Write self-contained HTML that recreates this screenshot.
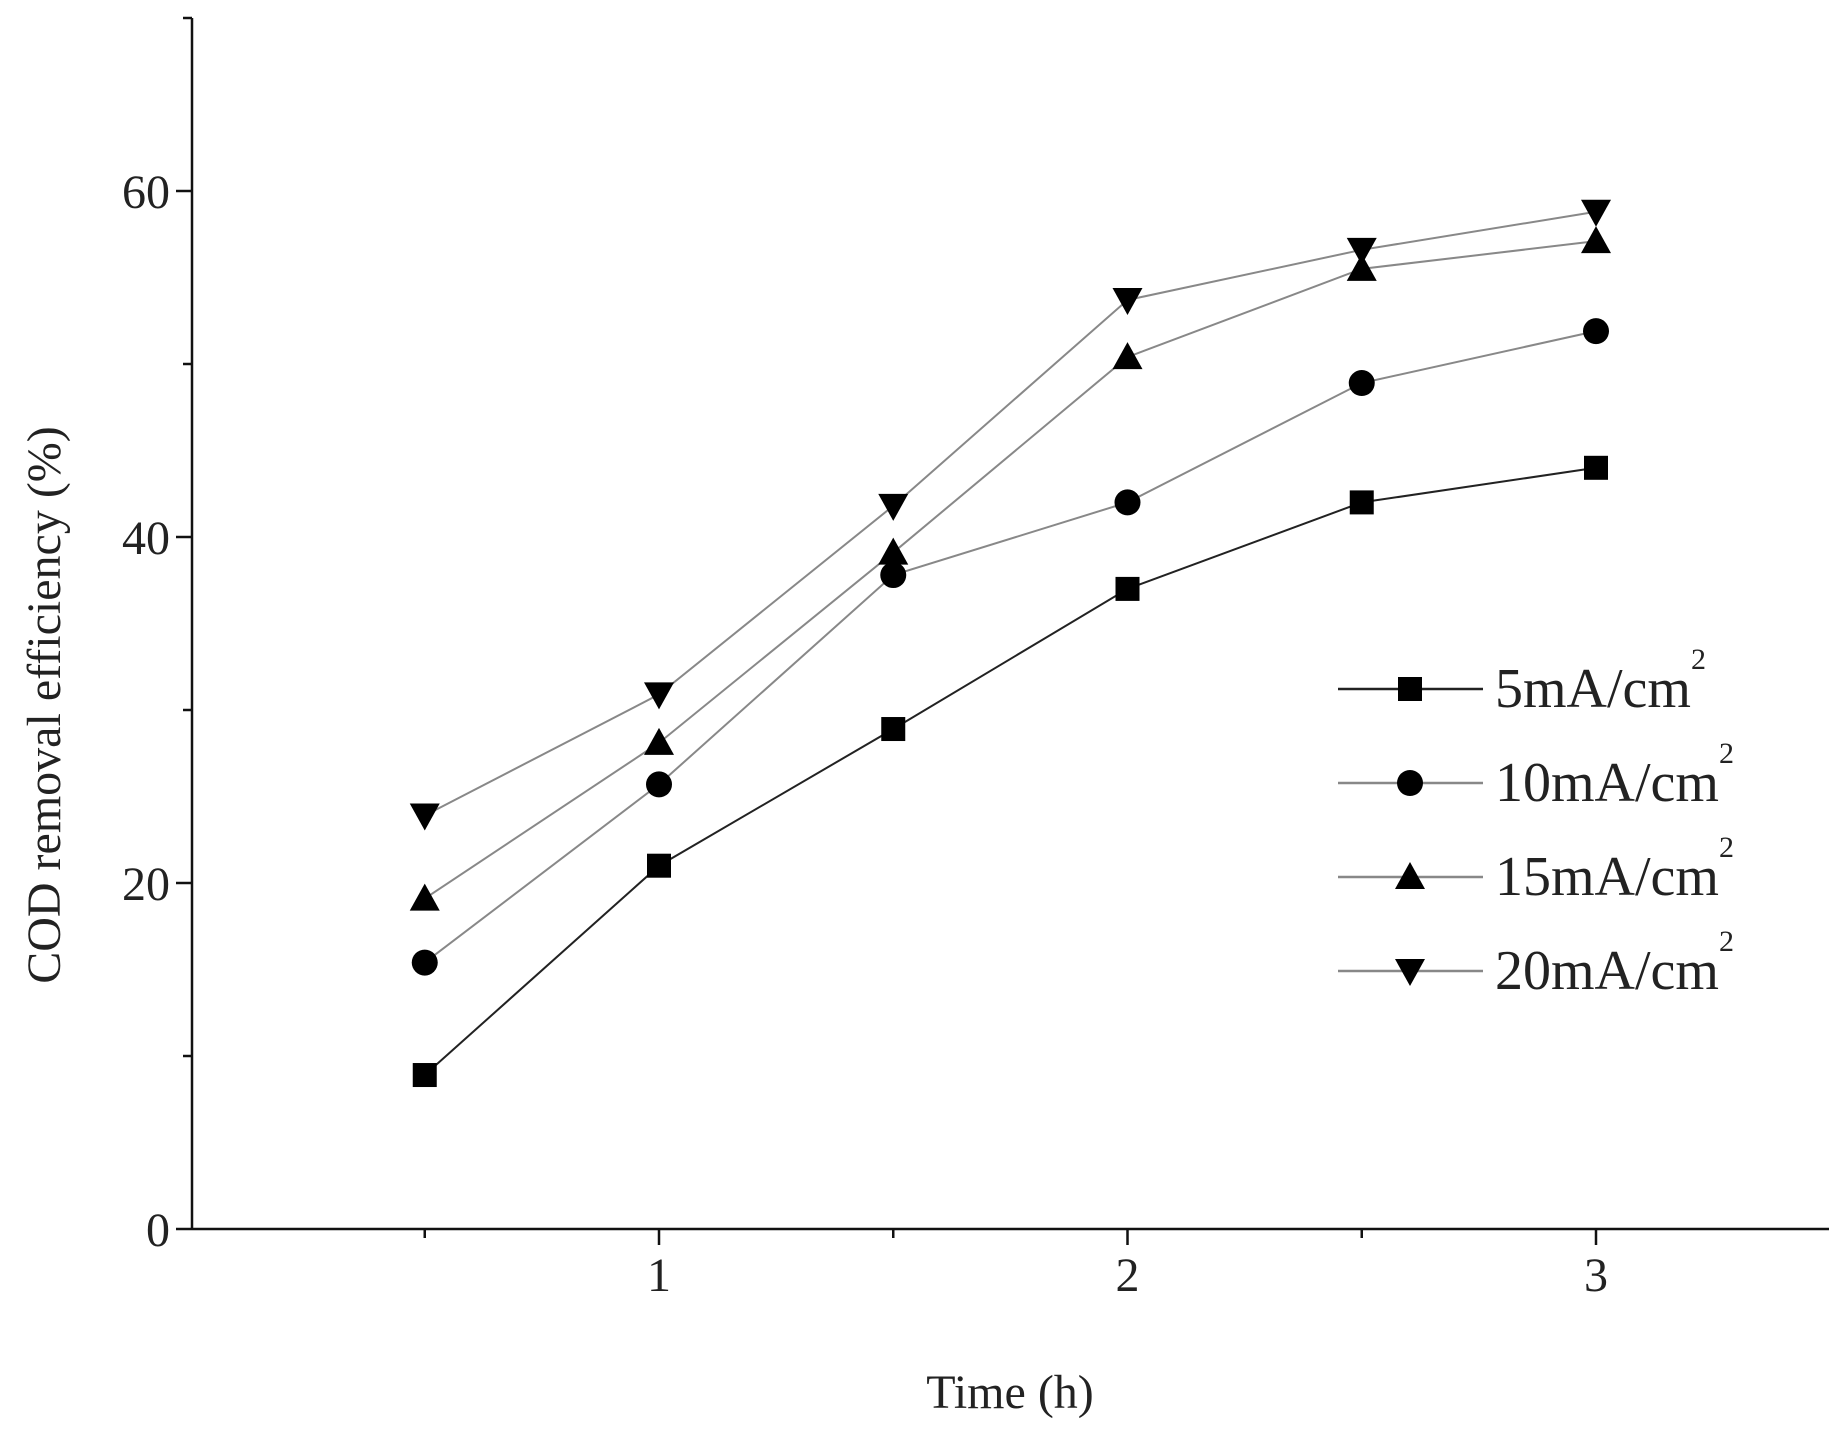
<!DOCTYPE html>
<html><head><meta charset="utf-8"><style>
html,body{margin:0;padding:0;background:#fff;}
svg text{font-family:"Liberation Serif",serif;fill:#222;}
</style></head><body>
<svg id="chart" width="1843" height="1439" viewBox="0 0 1843 1439" xmlns="http://www.w3.org/2000/svg">
<g id="axes"></g>
<g id="series"></g>
<g id="legend"></g>
<text x="1010" y="1408" font-size="48" text-anchor="middle">Time (h)</text>
<text x="0" y="0" font-size="48" text-anchor="middle" transform="translate(60,705) rotate(-90)">COD removal efficiency (%)</text>
</svg>
<script>
const times = [0.5, 1, 1.5, 2, 2.5, 3];
const s5 = [8.9, 21.0, 28.9, 37.0, 42.0, 44.0];
const s10 = [15.4, 25.7, 37.8, 42.0, 48.9, 51.9];
const s15 = [19.1, 28.1, 39.1, 50.4, 55.5, 57.1];
const s20 = [23.9, 30.9, 41.8, 53.7, 56.6, 58.8];
const seriesNames = ["5mA/cm", "10mA/cm", "15mA/cm", "20mA/cm"];
const yTicks = [0, 20, 40, 60];
const yMinor = [10, 30, 50, 70];
const xTicks = [1, 2, 3];
const xMinor = [0.5, 1.5, 2.5];

const NS = "http://www.w3.org/2000/svg";
const X0 = 192, Y0 = 1229;
function xs(t){ return 659 + (t - 1) * 468.5; }
function ys(v){ return Y0 - v * 17.3; }
function mk(tag, attrs, parent){
  const e = document.createElementNS(NS, tag);
  for (const k in attrs) e.setAttribute(k, attrs[k]);
  parent.appendChild(e);
  return e;
}
const axes = document.getElementById('axes');
let e;
e = mk('line', {x1:X0, y1:ys(70), x2:X0, y2:Y0, stroke:'#111', 'stroke-width':2.5}, axes);


e = mk('line', {x1:X0, y1:Y0, x2:1829, y2:Y0, stroke:'#111', 'stroke-width':2.5}, axes);


yTicks.forEach(v => {
  e = mk('line', {x1:X0-16, y1:ys(v), x2:X0, y2:ys(v), stroke:'#111', 'stroke-width':2.5}, axes);
  
  
  e = mk('text', {x:X0-22, y:ys(v)+17, 'font-size':48, 'text-anchor':'end'}, axes);
  e.textContent = v;
  
  
});
yMinor.forEach(v => {
  e = mk('line', {x1:X0-9, y1:ys(v), x2:X0, y2:ys(v), stroke:'#111', 'stroke-width':2.5}, axes);
  
  
});
xTicks.forEach(t => {
  e = mk('line', {x1:xs(t), y1:Y0, x2:xs(t), y2:Y0+16, stroke:'#111', 'stroke-width':2.5}, axes);
  
  
  e = mk('text', {x:xs(t), y:Y0+62, 'font-size':48, 'text-anchor':'middle'}, axes);
  e.textContent = t;
  
  
});
xMinor.forEach(t => {
  e = mk('line', {x1:xs(t), y1:Y0, x2:xs(t), y2:Y0+9, stroke:'#111', 'stroke-width':2.5}, axes);
  
  
});

function marker(type, x, y, parent){
  let m;
  if (type === 0) m = mk('rect', {x:x-12, y:y-12, width:24, height:24, fill:'#000'}, parent);
  else if (type === 1) m = mk('circle', {cx:x, cy:y, r:13, fill:'#000'}, parent);
  else if (type === 2) m = mk('polygon', {points:`${x},${y-15} ${x-15},${y+12} ${x+15},${y+12}`, fill:'#000'}, parent);
  else m = mk('polygon', {points:`${x},${y+15} ${x-15},${y-12} ${x+15},${y-12}`, fill:'#000'}, parent);
  return m;
}
const allSeries = [s5, s10, s15, s20];
const colors = ['#222', '#888', '#888', '#888'];
const sg = document.getElementById('series');
allSeries.forEach((s, i) => {
  const g = mk('g', {}, sg);
  
  
  const pl = mk('polyline', {points: s.map((v, j) => xs(times[j]) + ',' + ys(v)).join(' '), fill:'none', stroke:colors[i], 'stroke-width':2}, g);
  
  
  s.forEach((v, j) => {
    const m = marker(i, xs(times[j]), ys(v), g);
    
    
  });
});
const lg = document.getElementById('legend');
seriesNames.forEach((n, i) => {
  const y = 689 + i * 94;
  const g = mk('g', {}, lg);
  
  
  mk('line', {x1:1338, y1:y, x2:1483, y2:y, stroke:colors[i], 'stroke-width':2.5}, g);
  marker(i, 1410, y, g);
  const t = mk('text', {x:1495, y:y+18, 'font-size':56}, g);
  t.textContent = n;
  const sup = mk('tspan', {dy:-38, 'font-size':30}, t);
  sup.textContent = '2';
});
</script>
</body></html>
